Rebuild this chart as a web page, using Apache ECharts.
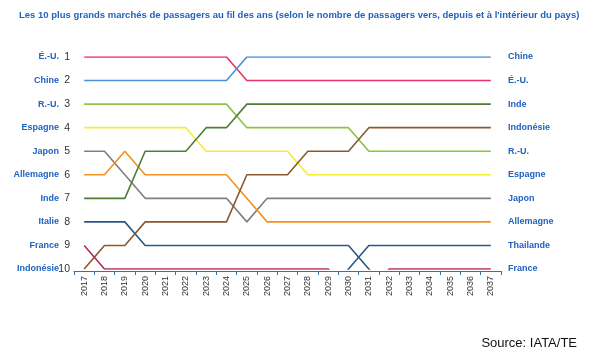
<!DOCTYPE html>
<html>
<head>
<meta charset="utf-8">
<script src="https://cdn.jsdelivr.net/npm/echarts@6/dist/echarts.min.js"></script>
<style>
  html, body { margin: 0; padding: 0; background: #fff; }
  #chart { width: 600px; height: 353px; }
</style>
</head>
<body>
<div id="chart"></div>
<script>
const years = ['2017', '2018', '2019', '2020', '2021', '2022', '2023', '2024', '2025', '2026', '2027',
  '2028', '2029', '2030', '2031', '2032', '2033', '2034', '2035', '2036', '2037']

// rang par année (11 = hors du top 10)
const usa = [1, 1, 1, 1, 1, 1, 1, 1, 2, 2, 2, 2, 2, 2, 2, 2, 2, 2, 2, 2, 2]
const china = [2, 2, 2, 2, 2, 2, 2, 2, 1, 1, 1, 1, 1, 1, 1, 1, 1, 1, 1, 1, 1]
const uk = [3, 3, 3, 3, 3, 3, 3, 3, 4, 4, 4, 4, 4, 4, 5, 5, 5, 5, 5, 5, 5]
const spain = [4, 4, 4, 4, 4, 4, 5, 5, 5, 5, 5, 6, 6, 6, 6, 6, 6, 6, 6, 6, 6]
const japan = [5, 5, 6, 7, 7, 7, 7, 7, 8, 7, 7, 7, 7, 7, 7, 7, 7, 7, 7, 7, 7]
const germany = [6, 6, 5, 6, 6, 6, 6, 6, 7, 8, 8, 8, 8, 8, 8, 8, 8, 8, 8, 8, 8]
const india = [7, 7, 7, 5, 5, 5, 4, 4, 3, 3, 3, 3, 3, 3, 3, 3, 3, 3, 3, 3, 3]
const italy = [8, 8, 8, 9, 9, 9, 9, 9, 9, 9, 9, 9, 9, 9, 10, 11, 11, 11, 11, 11, 11]
const france = [9, 10, 10, 10, 10, 10, 10, 10, 10, 10, 10, 10, 10, 11, 11, 10, 10, 10, 10, 10, 10]
const indonesia = [10, 9, 9, 8, 8, 8, 8, 8, 6, 6, 6, 5, 5, 5, 4, 4, 4, 4, 4, 4, 4]
const thailand = [11, 11, 11, 11, 11, 11, 11, 11, 11, 11, 11, 11, 11, 10, 9, 9, 9, 9, 9, 9, 9]

const leftNames = ['É.-U.', 'Chine', 'R.-U.', 'Espagne', 'Japon', 'Allemagne', 'Inde', 'Italie', 'France', 'Indonésie']
const rightNames = ['Chine', 'É.-U.', 'Inde', 'Indonésie', 'R.-U.', 'Espagne', 'Japon', 'Allemagne', 'Thailande', 'France']

const lines = [
  { name: 'É.-U.', data: usa, color: '#e8336a' },
  { name: 'Chine', data: china, color: '#4a90d9' },
  { name: 'R.-U.', data: uk, color: '#8cc540' },
  { name: 'Espagne', data: spain, color: '#f4ea3a' },
  { name: 'Japon', data: japan, color: '#7f7f7f' },
  { name: 'Allemagne', data: germany, color: '#f7901e' },
  { name: 'Inde', data: india, color: '#4f7d38' },
  { name: 'Italie', data: italy, color: '#2b5987' },
  { name: 'Thailande', data: thailand, color: '#2b5987' },
  { name: 'Indonésie', data: indonesia, color: '#8a5a2e' },
  { name: 'France', data: france, color: '#b12a52' },
]

const chart = echarts.init(document.getElementById('chart'))

const rankAxis = {
  type: 'value',
  min: 1,
  max: 10,
  interval: 1,
  inverse: true,
  axisLine: { show: false },
  axisTick: { show: false },
  splitLine: { show: false },
}

chart.setOption({
  animation: false,
  title: [
    {
      text: 'Les 10 plus grands marchés de passagers au fil des ans (selon le nombre de passagers vers, depuis et à l\'intérieur du pays)',
      left: 14,
      top: 5,
      textStyle: { fontFamily: 'Liberation Sans', fontSize: 9.5, fontWeight: 'bold', color: '#1f62c0' },
    },
    {
      text: 'Source: IATA/TE',
      right: 18,
      top: 332,
      textStyle: { fontFamily: 'Liberation Sans', fontSize: 13, fontWeight: 'normal', color: '#111' },
    },
  ],
  grid: { left: 74, right: 99, top: 57, bottom: 84 },
  xAxis: {
    type: 'category',
    data: years,
    boundaryGap: true,
    offset: 2,
    axisLine: { lineStyle: { color: '#3f6fa6', width: 1 } },
    axisTick: { show: true, length: 4, lineStyle: { color: '#3f6fa6' } },
    axisLabel: { rotate: 90, fontFamily: 'Liberation Sans', fontSize: 9, color: '#333', margin: 5 },
  },
  yAxis: [
    Object.assign({}, rankAxis, {
      position: 'left',
      axisLabel: {
        margin: 4,
        formatter: v => '{n|' + leftNames[v - 1] + '}{v|' + v + '}',
        rich: {
          n: { fontFamily: 'Liberation Sans', fontSize: 9, fontWeight: 'bold', color: '#1f62c0' },
          v: { fontFamily: 'Liberation Sans', fontSize: 10.5, color: '#333', width: 11, align: 'right' },
        },
      },
    }),
    Object.assign({}, rankAxis, {
      position: 'right',
      axisLabel: {
        margin: 7,
        fontFamily: 'Liberation Sans',
        fontSize: 9,
        fontWeight: 'bold',
        color: '#1f62c0',
        formatter: v => rightNames[v - 1],
      },
    }),
  ],
  series: lines.map(l => ({
    name: l.name,
    type: 'line',
    data: l.data,
    showSymbol: false,
    symbol: 'none',
    clip: true,
    lineStyle: { color: l.color, width: 1.6 },
  })),
})
</script>
</body>
</html>
